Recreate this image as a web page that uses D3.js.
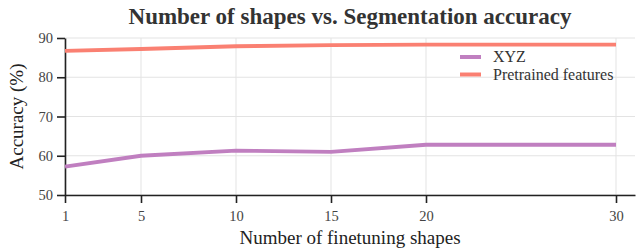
<!DOCTYPE html>
<meta charset="utf-8">
<head>
    <script src="https://d3js.org/d3.v7.min.js"></script>
</head>
<body style="margin:0; background:#fff">
    <svg width="640" height="249" style="font-family: serif"></svg>
    <script>
        var shapes = [1, 5, 10, 15, 20, 30];
        var xyz = [57.2, 60.0, 61.3, 61.0, 62.8, 62.8];
        var pretrained = [86.7, 87.2, 87.9, 88.2, 88.3, 88.3];
        var yTicks = [50, 60, 70, 80, 90];
        var seriesNames = ["XYZ", "Pretrained features"];
        var colors = ["#c07fc0", "#fa8072"];

        var svg = d3.select("svg"),
            margin = { top: 38, right: 5, bottom: 54, left: 65 },
            width = +svg.attr("width") - margin.left - margin.right,
            height = +svg.attr("height") - margin.top - margin.bottom,
            g = svg.append("g").attr("transform", "translate(" + margin.left + "," + margin.top + ")");

        var x = d3.scaleLinear().domain([1, 31]).range([0, width]);
        var y = d3.scaleLinear().domain([50, 90]).range([height, 0]);

        // grid
        g.append("g")
            .selectAll("line").data(yTicks).enter().append("line")
            .attr("x1", 0).attr("x2", width)
            .attr("y1", function (d) { return y(d); }).attr("y2", function (d) { return y(d); })
            .attr("stroke", "#e3e3e3");
        g.append("g")
            .selectAll("line").data(shapes).enter().append("line")
            .attr("y1", 0).attr("y2", height)
            .attr("x1", function (d) { return x(d); }).attr("x2", function (d) { return x(d); })
            .attr("stroke", "#e3e3e3");

        var xAxis = g.append("g")
            .attr("transform", "translate(0," + height + ")")
            .call(d3.axisBottom(x).tickValues(shapes).tickSize(8).tickSizeOuter(0).tickPadding(8));
        var yAxis = g.append("g")
            .call(d3.axisLeft(y).tickValues(yTicks).tickSize(8).tickSizeOuter(0).tickPadding(4));

        // drop d3's sans-serif so the texts inherit the serif face
        [xAxis, yAxis].forEach(function (a) {
            a.attr("font-family", null).attr("font-size", 14.5);
            a.selectAll("text").attr("fill", "#444");
            a.selectAll("line").attr("stroke", "#222").attr("stroke-width", 1.6);
            a.select(".domain").attr("stroke", "#222").attr("stroke-width", 1.6);
        });

        var line = d3.line()
            .x(function (d, i) { return x(shapes[i]); })
            .y(function (d) { return y(d); });

        [xyz, pretrained].forEach(function (s, k) {
            g.append("path")
                .datum(s)
                .attr("fill", "none")
                .attr("stroke", colors[k])
                .attr("stroke-width", 3.8)
                .attr("d", line);
        });

        // legend
        var legend = g.append("g").attr("transform", "translate(395,19)");
        seriesNames.forEach(function (n, k) {
            var row = legend.append("g").attr("transform", "translate(0," + (k * 17.5) + ")");
            row.append("line").attr("x1", 0).attr("x2", 21).attr("y1", 0).attr("y2", 0)
                .attr("stroke", colors[k]).attr("stroke-width", 4);
            row.append("text").attr("x", 33).attr("y", 5)
                .attr("font-size", "16px").attr("fill", "#333").text(n);
        });

        svg.append("text")
            .attr("x", margin.left + width / 2).attr("y", 24)
            .attr("text-anchor", "middle")
            .attr("font-size", "23px").attr("font-weight", "bold").attr("fill", "#333")
            .text("Number of shapes vs. Segmentation accuracy");

        svg.append("text")
            .attr("x", margin.left + width / 2).attr("y", 244)
            .attr("text-anchor", "middle")
            .attr("font-size", "19px").attr("fill", "#222")
            .text("Number of finetuning shapes");

        svg.append("text")
            .attr("transform", "translate(23," + (margin.top + height / 2) + ") rotate(-90)")
            .attr("text-anchor", "middle")
            .attr("font-size", "19px").attr("fill", "#222")
            .text("Accuracy (%)");
    </script>
</body>
